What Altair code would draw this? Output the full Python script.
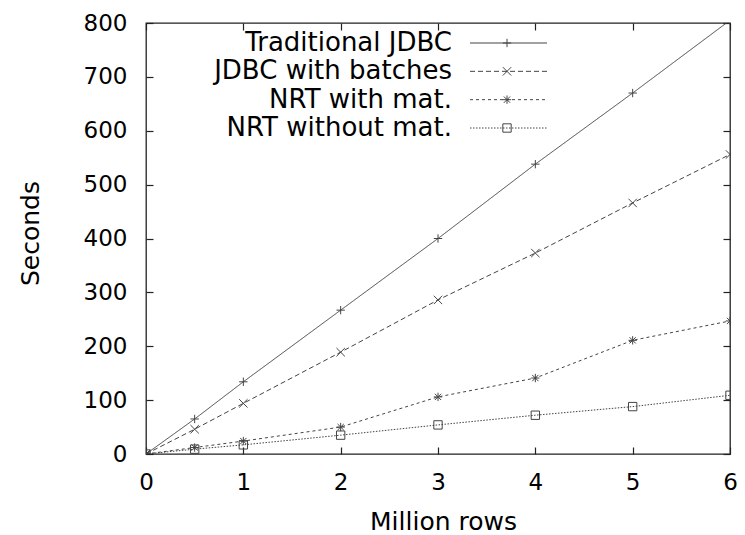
import altair as alt
import pandas as pd

# ---- data ----
rows = [0, 0.5, 1, 2, 3, 4, 5, 6]
series_names = ["Traditional JDBC", "JDBC with batches", "NRT with mat.", "NRT without mat."]
traditional = [0, 65, 134, 267, 400, 538, 670, 805]
batches = [0, 46, 94, 189, 286, 373, 466, 556]
nrt_mat = [0, 12, 24, 50, 106, 141, 211, 247]
nrt_nomat = [0, 9, 17, 35, 54, 72, 88, 109]
x_ticks = [0, 1, 2, 3, 4, 5, 6]
y_ticks = [0, 100, 200, 300, 400, 500, 600, 700, 800]

values = [traditional, batches, nrt_mat, nrt_nomat]
df = pd.DataFrame(
    [{"series": s, "rows": r, "seconds": v}
     for s, vals in zip(series_names, values) for r, v in zip(rows, vals)]
)
legend_df = pd.DataFrame({"series": series_names})

W, H = 584, 431
FONT = "DejaVu Sans"
LINE = "#444444"
TICK = "#222222"
TL = 7  # inward tick length

plus = "M-1,0L1,0M0,-1L0,1"
cross = "M-1,-1L1,1M-1,1L1,-1"
star = "M-1,0L1,0M0,-1L0,1M-0.75,-0.75L0.75,0.75M-0.75,0.75L0.75,-0.75"
shape_scale = alt.Scale(domain=series_names, range=[plus, cross, star, "square"])
dash_scale = alt.Scale(domain=series_names, range=[[1, 0], [5, 3], [3, 3], [1.5, 1.5]])

x_scale = alt.Scale(domain=[0, 6], nice=False, zero=False)
y_scale = alt.Scale(domain=[0, 800], nice=False)

common_tick = dict(ticks=True, tickSize=TL, tickColor=TICK, tickWidth=1.2,
                   offset=-TL, domain=False, grid=False,
                   labelFlush=False, labelOverlap=False, labelBound=False)

x_axis = alt.Axis(values=x_ticks, orient="bottom", **common_tick,
                  labelFont=FONT, labelFontSize=23, labelColor="black", labelPadding=17,
                  title="Million rows", titleFont=FONT, titleFontSize=25,
                  titleFontWeight="normal", titleColor="black",
                  titleX=297, titleY=67 + TL, titleAlign="center", titleBaseline="middle")
y_axis = alt.Axis(values=y_ticks, orient="left", **common_tick,
                  labelFont=FONT, labelFontSize=23, labelColor="black", labelPadding=19,
                  title="Seconds", titleFont=FONT, titleFontSize=25,
                  titleFontWeight="normal", titleColor="black",
                  titleX=-116 - TL, titleY=210, titleAlign="center", titleBaseline="middle")
x_axis_top = alt.Axis(values=x_ticks, orient="top", **common_tick, labels=False, title=None)
y_axis_right = alt.Axis(values=y_ticks, orient="right", **common_tick, labels=False, title=None)

base = alt.Chart(df)
lines = base.mark_line(clip=True, strokeWidth=1, color=LINE).encode(
    x=alt.X("rows:Q", scale=x_scale, axis=x_axis),
    y=alt.Y("seconds:Q", scale=y_scale, axis=y_axis),
    detail="series:N",
    strokeDash=alt.StrokeDash("series:N", scale=dash_scale, legend=None),
)
points = base.mark_point(clip=True, filled=False, strokeWidth=1, size=70, color=LINE, opacity=1).encode(
    x=alt.X("rows:Q", scale=x_scale, axis=x_axis_top),
    y=alt.Y("seconds:Q", scale=y_scale, axis=y_axis_right),
    shape=alt.Shape("series:N", scale=shape_scale, legend=None),
)

leg_y = alt.Y("series:N", sort=series_names,
              scale=alt.Scale(type="point", domain=series_names, range=[20, 105], padding=0),
              axis=None)
leg_text = alt.Chart(legend_df).mark_text(
    align="right", baseline="middle", font=FONT, fontSize=26, color="black").encode(
    x=alt.value(306), y=leg_y, text="series:N")
leg_line = alt.Chart(legend_df).mark_rule(strokeWidth=1, color=LINE).encode(
    x=alt.value(324), x2=alt.value(401), y=leg_y,
    strokeDash=alt.StrokeDash("series:N", scale=dash_scale, legend=None))
leg_pt = alt.Chart(legend_df).mark_point(filled=False, strokeWidth=1, size=70, color=LINE, opacity=1).encode(
    x=alt.value(361), y=leg_y,
    shape=alt.Shape("series:N", scale=shape_scale, legend=None))

chart = alt.layer(
    lines, points, leg_line, leg_pt, leg_text
).resolve_scale(y="independent").resolve_axis(x="independent", y="independent").properties(
    width=W, height=H,
    autosize=alt.AutoSizeParams(type="none"),
    padding={"left": 138, "top": 15, "right": 7, "bottom": 100},
    background="white",
).configure_view(stroke="#222222", strokeWidth=1.3)

chart.save("out.html", embed_options={"renderer": "svg", "actions": False})
